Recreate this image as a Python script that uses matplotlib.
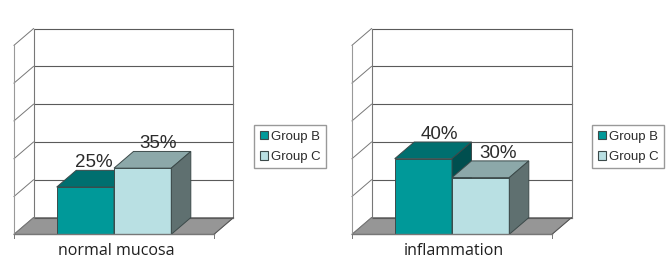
import matplotlib
matplotlib.use("Agg")
import matplotlib.pyplot as plt
from matplotlib.patches import Polygon, Patch

groups = ["Group B", "Group C"]
panels = ["normal mucosa", "inflammation"]
group_b = [25, 40]
group_c = [35, 30]
y_grid = [0, 20, 40, 60, 80, 100]

W, H = 670, 278
PX_X = 200.0          # pixels per unit of x (floor width)
PX_Y = 1.89           # pixels per percent
DX = 19.5 / PX_X      # depth offset in x
DY = 16.7 / PX_Y      # depth offset in y
BAR_W = 0.2865
BAR_X0 = 0.2135

COL = {
    "Group B": ("#009999", "#006f6f", "#004f4f"),
    "Group C": ("#b9e0e3", "#8ca8a9", "#5f7070"),
}
FLOOR = "#969696"
EDGE = "#3c4a4a"
GRID = "#5a5a5a"
TXT = "#2b2b2b"
LABEL_FONT = ["Open Sans", "DejaVu Sans"]

panel_left = [14, 352]
legend_left = [254.3, 592.3]
# horizontal nudges of the value labels (px) beyond the bar centre
label_nudge = [[-1, 5.5], [6, 7.8]]

fig = plt.figure(figsize=(W / 100, H / 100), dpi=100, facecolor="white")


def draw_bar(ax, x, val, name):
    front, top, side = COL[name]
    ax.bar(x, val, width=BAR_W, align="edge", color=front, edgecolor=EDGE,
           linewidth=0.7, zorder=3, clip_on=False)
    r = x + BAR_W
    ax.add_patch(Polygon([(x, val), (r, val), (r + DX, val + DY), (x + DX, val + DY)],
                         closed=True, fc=top, ec=EDGE, lw=0.7, zorder=3, clip_on=False))
    ax.add_patch(Polygon([(r, 0), (r + DX, DY), (r + DX, val + DY), (r, val)],
                         closed=True, fc=side, ec=EDGE, lw=0.7, zorder=3, clip_on=False))


for i, title in enumerate(panels):
    ax = fig.add_axes([panel_left[i] / W, (H - 234.3) / H,
                       (PX_X + 20) / W, (189 + 16.7) / H])
    ax.set_xlim(0, (PX_X + 20) / PX_X)
    ax.set_ylim(0, 100 + DY)
    ax.axis("off")

    # floor
    ax.add_patch(Polygon([(0, 0), (1, 0), (1 + DX, DY), (DX, DY)], closed=True,
                         fc=FLOOR, ec="#777777", lw=0.6, zorder=1, clip_on=False))
    # walls and grid
    for g in y_grid:
        ax.plot([DX, 1 + DX], [g + DY, g + DY], color=GRID, lw=0.8, zorder=2, clip_on=False)
        ax.plot([0, DX], [g, g + DY], color="#777777", lw=0.7, zorder=2, clip_on=False)
    ax.plot([DX, DX], [DY, 100 + DY], color="#777777", lw=0.8, zorder=2, clip_on=False)
    ax.plot([1 + DX, 1 + DX], [DY, 100 + DY], color="#777777", lw=0.8, zorder=2, clip_on=False)
    ax.plot([0, 0], [0, 100], color="#999999", lw=0.8, zorder=2, clip_on=False)
    ax.plot([1, 1 + DX], [0, DY], color="#555555", lw=0.7, zorder=2, clip_on=False)
    ax.plot([0, 1], [0, 0], color="#777777", lw=1.0, zorder=4, clip_on=False)
    for t in (0, 1):
        ax.plot([t, t], [0, -1.8], color="#777777", lw=0.7, zorder=4, clip_on=False)

    # bars
    vals = [group_b[i], group_c[i]]
    for j, (name, v) in enumerate(zip(groups, vals)):
        x = BAR_X0 + j * BAR_W
        draw_bar(ax, x, v, name)
        ax.annotate(f"{v}%", xy=(x + BAR_W / 2 + DX / 2, v + DY),
                    xytext=(label_nudge[i][j] * 0.72, 2.2), textcoords="offset points",
                    ha="center", va="baseline", fontsize=13.5, color=TXT,
                    family="Liberation Sans", zorder=6, annotation_clip=False)

    ax.text(0.51, -8.7, title, ha="center", va="center", fontsize=11.5,
            color="#1f1f1f", family=LABEL_FONT, clip_on=False)

    handles = [Patch(fc=COL[n][0], ec=EDGE, lw=0.8, label=n) for n in groups]
    fig.legend(handles=handles, loc="upper left",
               bbox_to_anchor=(legend_left[i] / W, (H - 125) / H),
               bbox_transform=fig.transFigure, fancybox=False, framealpha=1,
               edgecolor="#999999", borderaxespad=0, borderpad=0.42,
               handlelength=0.63, handleheight=0.65, handletextpad=0.23,
               labelspacing=0.62, prop={"family": "Liberation Sans", "size": 9.5},
               labelcolor=TXT).get_frame().set_linewidth(1.0)

fig.savefig("out.png", dpi=100)
